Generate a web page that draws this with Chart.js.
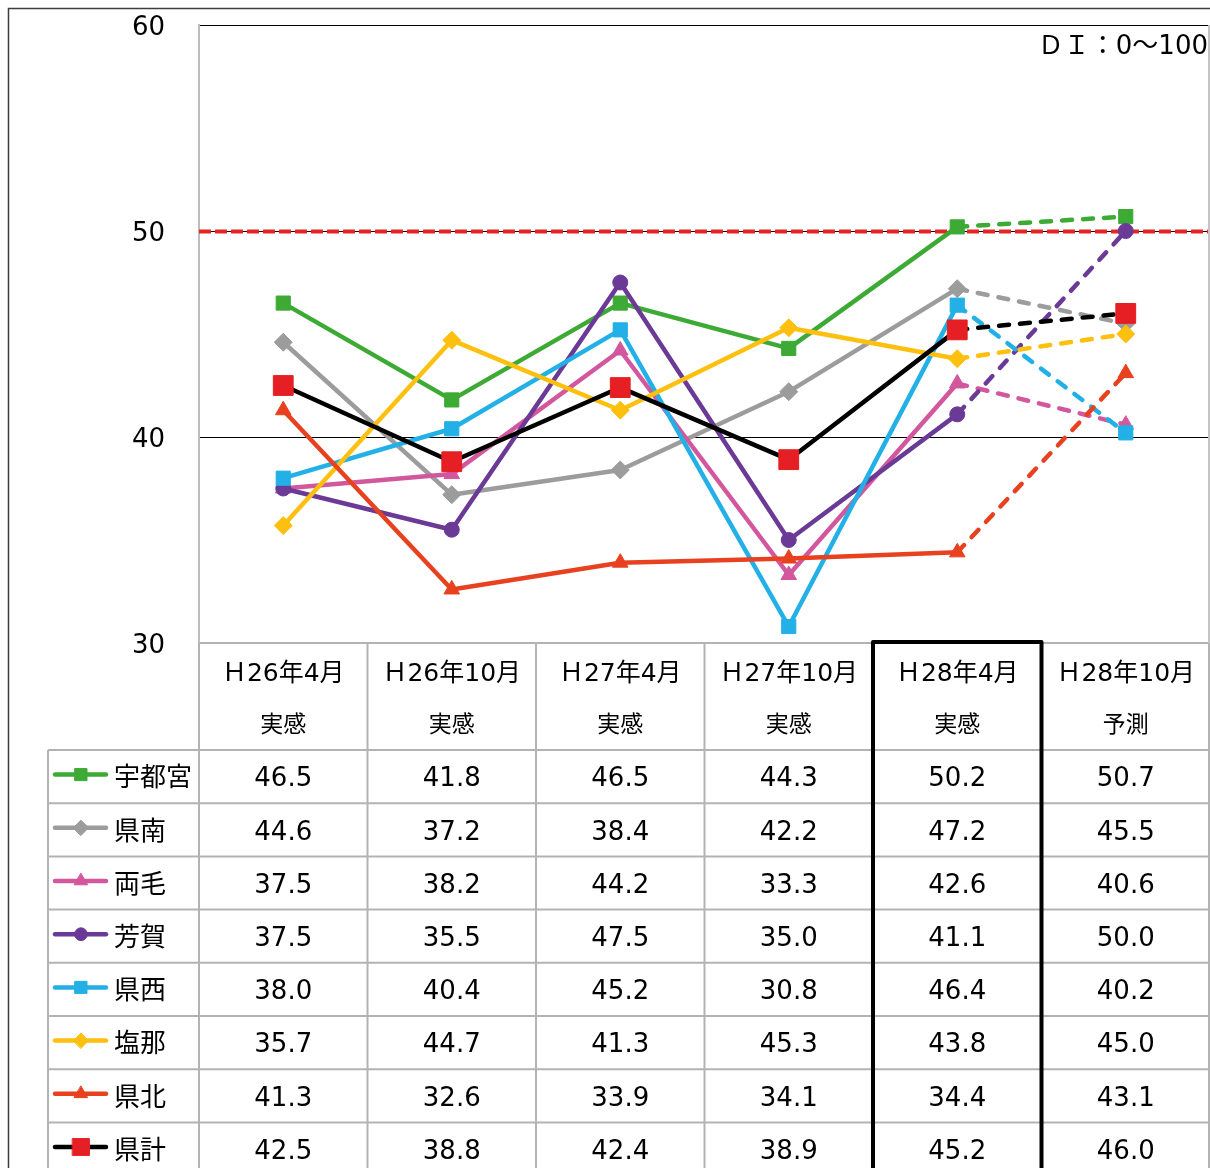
<!DOCTYPE html>
<html lang="ja">
<head>
<meta charset="utf-8">
<title>地域別DI</title>
<script src="https://cdn.jsdelivr.net/npm/chart.js@4/dist/chart.umd.min.js"></script>
<style>
  html, body { margin: 0; padding: 0; background: #fff; }
  #wrap { width: 1210px; height: 1168px; position: relative; }
  canvas { display: block; }
</style>
</head>
<body>
<div id="wrap"><canvas id="c" width="1210" height="1168"></canvas></div>
<script>
// 調査時期（ヘッダー1行目）と区分（ヘッダー2行目）
const periods = ['Ｈ26年4月', 'Ｈ26年10月', 'Ｈ27年4月', 'Ｈ27年10月', 'Ｈ28年4月', 'Ｈ28年10月'];
const kinds = ['実感', '実感', '実感', '実感', '実感', '予測'];

// 地域名
const regions = ['宇都宮', '県南', '両毛', '芳賀', '県西', '塩那', '県北', '県計'];

// 地域別DI
const utsunomiya = [46.5, 41.8, 46.5, 44.3, 50.2, 50.7];
const kennan     = [44.6, 37.2, 38.4, 42.2, 47.2, 45.5];
const ryomo      = [37.5, 38.2, 44.2, 33.3, 42.6, 40.6];
const haga       = [37.5, 35.5, 47.5, 35.0, 41.1, 50.0];
const kensei     = [38.0, 40.4, 45.2, 30.8, 46.4, 40.2];
const enna       = [35.7, 44.7, 41.3, 45.3, 43.8, 45.0];
const kenpoku    = [41.3, 32.6, 33.9, 34.1, 34.4, 43.1];
const kenkei     = [42.5, 38.8, 42.4, 38.9, 45.2, 46.0];

// 縦軸目盛
const yTicks = [30, 40, 50, 60];
const borderValue = 50;           // 好不況の境目
const unitNote = 'ＤＩ：0～100';

const seriesValues = [utsunomiya, kennan, ryomo, haga, kensei, enna, kenpoku, kenkei];
const seriesStyles = [
  { line: '#3DAA35', mark: '#3DAA35', point: 'rect',     r: 10 },
  { line: '#9C9C9C', mark: '#9C9C9C', point: 'rectRot',  r: 9 },
  { line: '#D2579D', mark: '#D2579D', point: 'triangle', r: 9 },
  { line: '#6A3A96', mark: '#6A3A96', point: 'circle',   r: 7.5 },
  { line: '#22B0E6', mark: '#22B0E6', point: 'rect',     r: 10 },
  { line: '#FDC00F', mark: '#FDC00F', point: 'rectRot',  r: 9 },
  { line: '#E8411F', mark: '#E8411F', point: 'triangle', r: 9 },
  { line: '#000000', mark: '#E51F23', point: 'rect',     r: 14 }
];
const forecastIndex = kinds.indexOf('予測');
const currentIndex = forecastIndex - 1;

const FONT = "'DejaVu Sans', 'Noto Sans CJK JP', sans-serif";
const FONT_CJK = "'Noto Sans CJK JP', sans-serif";
const DIGIT_SHIFT = 3;   // DejaVuの数字を漢字と同じ高さにそろえる

const datasets = regions.map((name, i) => ({
  label: name,
  data: seriesValues[i],
  borderColor: seriesStyles[i].line,
  backgroundColor: seriesStyles[i].mark,
  pointBackgroundColor: seriesStyles[i].mark,
  pointBorderColor: seriesStyles[i].mark,
  pointBorderWidth: 1,
  pointStyle: seriesStyles[i].point,
  pointRadius: seriesStyles[i].r,
  pointHoverRadius: seriesStyles[i].r,
  borderWidth: 4.5,
  borderCapStyle: 'round',
  borderJoinStyle: 'round',
  tension: 0,
  fill: false,
  order: regions.length - i,
  segment: {
    borderDash: ctx => ctx.p1DataIndex === forecastIndex ? [10, 11] : undefined
  }
}));

// 50の境界線（赤破線）
const borderLinePlugin = {
  id: 'borderLine',
  beforeDatasetsDraw(chart) {
    const { ctx, chartArea } = chart;
    const y = Math.round(chart.scales.y.getPixelForValue(borderValue)) + 0.5;
    ctx.save();
    ctx.strokeStyle = '#E52521';
    ctx.lineWidth = 4;
    ctx.setLineDash([12, 4]);
    ctx.beginPath();
    ctx.moveTo(chartArea.left, y);
    ctx.lineTo(chartArea.right, y);
    ctx.stroke();
    ctx.restore();
  }
};

// 枠・単位表記・データ表
const tablePlugin = {
  id: 'dataTable',
  afterDraw(chart) {
    const { ctx, chartArea } = chart;
    const W = chart.width, H = chart.height;
    const n = periods.length;
    const left = chartArea.left, right = chartArea.right;
    const colW = (right - left) / n;
    const top = chartArea.bottom;
    const headH = 107;
    const bodyTop = top + headH;
    const rowH = 53.2;
    const legendLeft = 48;

    ctx.save();

    // 全体の外枠
    ctx.strokeStyle = '#3c3c3c';
    ctx.lineWidth = 1.5;
    ctx.strokeRect(8.5, 8.5, W + 10, H + 10);

    // プロット領域の右端
    ctx.strokeStyle = '#c4c4c4';
    ctx.lineWidth = 2;
    ctx.beginPath();
    ctx.moveTo(right - 1, chartArea.top);
    ctx.lineTo(right - 1, top);
    ctx.stroke();

    // 単位表記
    ctx.fillStyle = '#000';
    ctx.font = `26px ${FONT}`;
    ctx.textAlign = 'right';
    ctx.textBaseline = 'middle';
    ctx.fillText(unitNote, right - 2, chartArea.top + 22);

    // 表の罫線
    ctx.strokeStyle = '#b3b3b3';
    ctx.lineWidth = 2;
    ctx.beginPath();
    for (let k = 0; k <= n; k++) {
      const x = Math.min(left + k * colW, W - 1);
      ctx.moveTo(x, top);
      ctx.lineTo(x, H);
    }
    ctx.moveTo(legendLeft, bodyTop);
    ctx.lineTo(legendLeft, H);
    for (let r = 0; r <= regions.length; r++) {
      const y = bodyTop + r * rowH;
      ctx.moveTo(legendLeft, y);
      ctx.lineTo(W, y);
    }
    ctx.stroke();

    // ヘッダー
    ctx.fillStyle = '#000';
    ctx.textAlign = 'center';
    ctx.textBaseline = 'middle';
    for (let k = 0; k < n; k++) {
      const cx = chart.scales.x.getPixelForValue(k);
      ctx.font = `25px ${FONT}`;
      ctx.fillText(periods[k], cx, top + 28 + DIGIT_SHIFT);
      ctx.font = `23px ${FONT_CJK}`;
      ctx.fillText(kinds[k], cx, top + 80);
    }

    // 系列ごとの行
    regions.forEach((name, i) => {
      const cy = bodyTop + rowH * (i + 0.5);
      const st = seriesStyles[i];
      // 凡例記号
      ctx.strokeStyle = st.line;
      ctx.lineWidth = 4.5;
      ctx.lineCap = 'round';
      ctx.beginPath();
      ctx.moveTo(55, cy - 2);
      ctx.lineTo(106, cy - 2);
      ctx.stroke();
      ctx.fillStyle = st.mark;
      ctx.strokeStyle = st.mark;
      ctx.lineWidth = 1;
      Chart.helpers.drawPoint(ctx, {
        pointStyle: st.point,
        radius: st.r * 0.85,
        rotation: 0,
        borderWidth: 1
      }, 81, cy - 2);
      // 地域名
      ctx.fillStyle = '#000';
      ctx.font = `26px ${FONT_CJK}`;
      ctx.textAlign = 'left';
      ctx.fillText(name, 114, cy);
      // 数値
      ctx.font = `26px ${FONT}`;
      ctx.textAlign = 'center';
      seriesValues[i].forEach((v, k) => {
        ctx.fillText(v.toFixed(1), chart.scales.x.getPixelForValue(k), cy + DIGIT_SHIFT);
      });
    });

    // 直近実績の列を太枠で囲む
    ctx.strokeStyle = '#000';
    ctx.lineWidth = 4;
    ctx.lineCap = 'butt';
    ctx.lineJoin = 'round';
    const bx0 = left + currentIndex * colW, bx1 = left + (currentIndex + 1) * colW;
    ctx.beginPath();
    ctx.moveTo(bx0, H + 5);
    ctx.lineTo(bx0, top - 1);
    ctx.lineTo(bx1, top - 1);
    ctx.lineTo(bx1, H + 5);
    ctx.stroke();

    ctx.restore();
  }
};

new Chart(document.getElementById('c'), {
  type: 'line',
  data: { labels: periods, datasets },
  plugins: [borderLinePlugin, tablePlugin],
  options: {
    responsive: false,
    animation: false,
    events: [],
    layout: { autoPadding: false, padding: { left: 0, right: 0, top: 25, bottom: 525 } },
    plugins: { legend: { display: false }, tooltip: { enabled: false } },
    scales: {
      x: {
        type: 'category',
        offset: true,
        display: false
      },
      y: {
        min: yTicks[0],
        max: yTicks[yTicks.length - 1],
        afterBuildTicks: scale => { scale.ticks = yTicks.map(v => ({ value: v })); },
        afterFit: scale => { scale.width = 199; scale.paddingTop = 0; scale.paddingBottom = 0; },
        ticks: {
          color: '#000',
          padding: 34,
          labelOffset: DIGIT_SHIFT,
          font: { family: FONT, size: 26 }
        },
        grid: {
          drawTicks: false,
          color: c => c.tick && c.tick.value === yTicks[0] ? '#b3b3b3' : '#000',
          lineWidth: c => c.tick && c.tick.value === yTicks[0] ? 2 : 1
        },
        border: { color: '#bdbdbd', width: 2 }
      }
    }
  }
});
</script>
</body>
</html>
